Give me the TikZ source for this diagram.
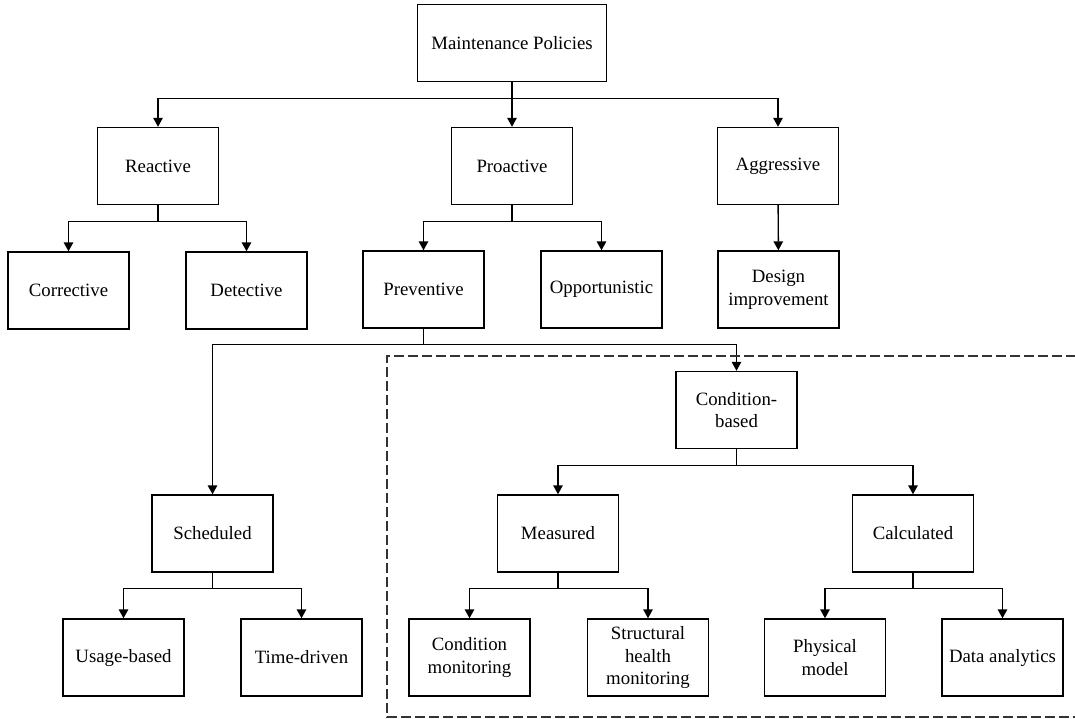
\documentclass[tikz,border=0pt]{standalone}
\usepackage{fontspec}
\setmainfont{Liberation Serif}
\usetikzlibrary{arrows.meta}
\begin{document}
\begin{tikzpicture}[x=0.02cm, y=-0.02cm, line width=0.8pt,
    box/.style={draw, minimum width=2.42cm, minimum height=1.54cm, align=center,
        font=\fontsize{10.7}{13}\selectfont},
    arr/.style={-{Triangle[length=1.8mm,width=1.9mm]}}]
    \useasboundingbox (0,0) rectangle (1075,718);
    \clip (0,0) rectangle (1075,718);
    \node[box, minimum width=3.78cm] (mp) at (512,43) {Maintenance Policies};
    \node[box] (reactive) at (158,166) {Reactive};
    \node[box] (proactive) at (512,166) {Proactive};
    \node[box] (aggressive) at (778,166) {Aggressive};
    \node[box] (corrective) at (68.5,290.5) {Corrective};
    \node[box] (detective) at (246.5,290.5) {Detective};
    \node[box] (preventive) at (423.5,289.5) {Preventive};
    \node[box] (opportunistic) at (601.5,289.5) {Opportunistic};
    \node[box] (design) at (778.5,289.5) {Design\\improvement};
    \node[box] (condition) at (736.5,410) {Condition-\\based};
    \node[box] (scheduled) at (212.5,533.5) {Scheduled};
    \node[box] (measured) at (558,533.5) {Measured};
    \node[box] (calculated) at (913,533.5) {Calculated};
    \node[box] (usage) at (123.5,657.5) {Usage-based};
    \node[box] (time) at (301.5,657.5) {Time-driven};
    \node[box] (cmon) at (469.5,657.5) {Condition\\monitoring};
    \node[box] (shm) at (648,657.5) {Structural\\health\\monitoring};
    \node[box] (physical) at (825,657.5) {Physical\\model};
    \node[box] (data) at (1002.5,657.5) {Data analytics};
    % tree connectors
    \foreach \p/\c in {mp/reactive, mp/proactive, mp/aggressive,
        reactive/corrective, reactive/detective,
        proactive/preventive, proactive/opportunistic,
        preventive/scheduled, preventive/condition,
        condition/measured, condition/calculated,
        scheduled/usage, scheduled/time,
        measured/cmon, measured/shm,
        calculated/physical, calculated/data}
        \draw[arr] (\p.south) -- ++(0,16) -| (\c.north);
    \draw[arr] (aggressive) -- (design);
    % condition-based group
    \draw[dash pattern=on 0.2cm off 0.08cm, black!80] (1090,356) -| (387,717) -- (1090,717);
\end{tikzpicture}
\end{document}
